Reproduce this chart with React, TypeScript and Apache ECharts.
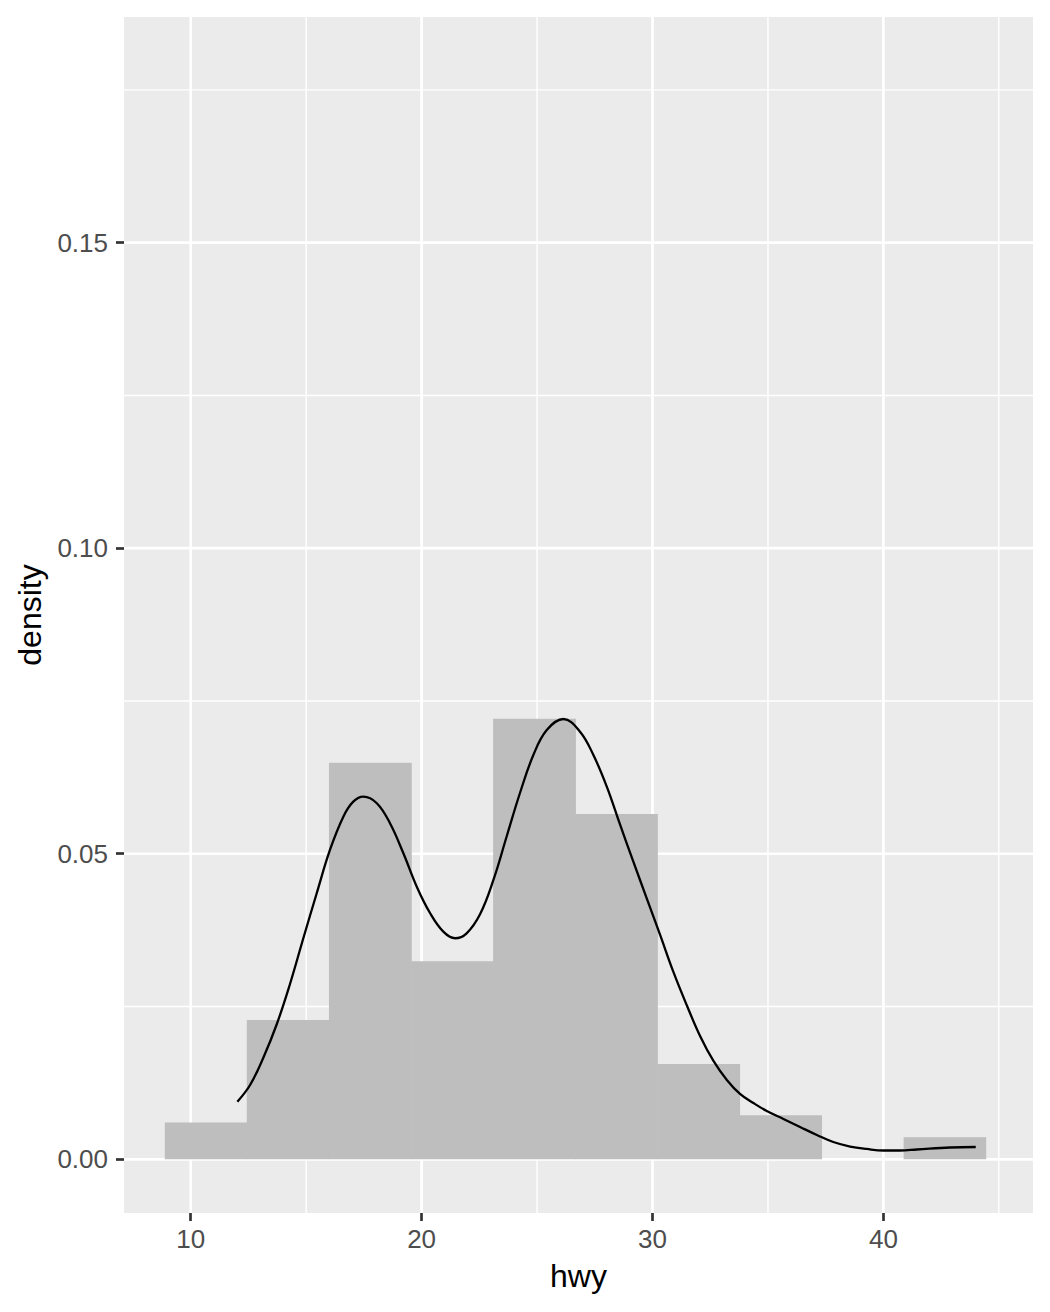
import React, { useEffect, useRef } from "react";
import * as echarts from "echarts";

// Histogram bin edges (hwy) and densities
const binEdges = [8.89, 12.44, 16.0, 19.56, 23.11, 26.67, 30.22, 33.78, 37.33, 40.89, 44.44];
const binDensity = [0.006, 0.0228, 0.0649, 0.0324, 0.0721, 0.0565, 0.0156, 0.0072, 0, 0.0036];

// Kernel density curve
const densityX = [
  12.02, 12.57, 13.14, 13.73, 14.3, 14.88, 15.46, 16.03, 16.61, 17.04, 17.48, 18.06, 18.63, 19.21,
  19.79, 20.37, 20.94, 21.45, 21.95, 22.53, 23.11, 23.69, 24.26, 24.84, 25.42, 26.14, 26.86, 27.44,
  28.02, 28.6, 29.17, 29.75, 30.33, 30.9, 31.48, 32.06, 32.64, 33.22, 33.79, 34.37, 34.95, 35.67,
  36.39, 37.12, 37.83, 38.56, 39.28, 40.0, 40.72, 41.45, 42.89, 44.0,
];
const densityY = [
  0.00943, 0.01216, 0.01658, 0.02214, 0.02869, 0.03622, 0.04358, 0.05062, 0.05607, 0.05852, 0.05934,
  0.05826, 0.05499, 0.05008, 0.04461, 0.04026, 0.03725, 0.03617, 0.03698, 0.04009, 0.04571, 0.05291,
  0.05994, 0.06616, 0.07025, 0.07205, 0.06998, 0.06616, 0.06098, 0.05471, 0.0487, 0.04271, 0.03671,
  0.0307, 0.02525, 0.02018, 0.01609, 0.01298, 0.01069, 0.00921, 0.0079, 0.0066, 0.00529, 0.00398,
  0.00283, 0.00209, 0.00169, 0.00144, 0.00144, 0.0016, 0.00193, 0.00201,
];

// Axis ticks
const xMajor = [10, 20, 30, 40];
const xMinor = [15, 25, 35, 45];
const yMajor = [0, 0.05, 0.1, 0.15];
const yMinor = [0.025, 0.075, 0.125, 0.175];

const X_MIN = 7.11;
const X_MAX = 46.48;
const Y_MIN = -0.00879;
const Y_MAX = 0.18693;

const FONT = "'Liberation Sans', Arial, Helvetica, sans-serif";

export default function App() {
  const ref = useRef<HTMLDivElement>(null);

  useEffect(() => {
    if (!ref.current) return;
    const chart = echarts.init(ref.current, undefined, { renderer: "svg" });

    // grid lines: [value, orientation (0 = vertical, 1 = horizontal), major (1) / minor (0)]
    const gridData: number[][] = [
      ...xMinor.map((v) => [v, 0, 0]),
      ...yMinor.map((v) => [v, 1, 0]),
      ...xMajor.map((v) => [v, 0, 1]),
      ...yMajor.map((v) => [v, 1, 1]),
    ];

    const bars = binDensity.map((d, i) => [binEdges[i], binEdges[i + 1], d]);
    const curve = densityX.map((x, i) => [x, densityY[i]]);

    const option: any = {
      animation: false,
      backgroundColor: "#FFFFFF",
      grid: {
        left: 124,
        right: 17,
        top: 17,
        bottom: 99,
        show: true,
        backgroundColor: "#EBEBEB",
        borderWidth: 0,
      },
      xAxis: {
        type: "value",
        position: "bottom",
        min: X_MIN,
        max: X_MAX,
        name: "hwy",
        nameLocation: "middle",
        nameGap: 47,
        nameTextStyle: { color: "#000000", fontSize: 32, fontFamily: FONT },
        axisLine: { show: true, onZero: false, lineStyle: { opacity: 0 } },
        splitLine: { show: false },
        axisTick: {
          show: true,
          length: 8,
          customValues: xMajor,
          lineStyle: { color: "#333333", width: 2.7 },
        },
        axisLabel: {
          customValues: xMajor,
          margin: 13,
          color: "#4D4D4D",
          fontSize: 26,
          fontFamily: FONT,
        },
      },
      yAxis: {
        type: "value",
        position: "left",
        min: Y_MIN,
        max: Y_MAX,
        name: "density",
        nameLocation: "middle",
        nameGap: 76,
        nameTextStyle: { color: "#000000", fontSize: 32, fontFamily: FONT },
        axisLine: { show: true, onZero: false, lineStyle: { opacity: 0 } },
        splitLine: { show: false },
        axisTick: {
          show: true,
          length: 8,
          customValues: yMajor,
          lineStyle: { color: "#333333", width: 2.7 },
        },
        axisLabel: {
          customValues: yMajor,
          margin: 16,
          color: "#4D4D4D",
          fontSize: 26,
          fontFamily: FONT,
          formatter: (v: number) => v.toFixed(2),
        },
      },
      series: [
        {
          type: "custom",
          z: 1,
          silent: true,
          data: gridData,
          encode: { x: 0, y: 0 },
          renderItem: (params: any, api: any) => {
            const cs = params.coordSys;
            const v = api.value(0);
            const orient = api.value(1);
            const major = api.value(2) === 1;
            const style = { stroke: "#FFFFFF", lineWidth: major ? 2.7 : 1.4 };
            if (orient === 0) {
              const px = api.coord([v, 0])[0];
              return {
                type: "line",
                shape: { x1: px, y1: cs.y, x2: px, y2: cs.y + cs.height },
                style,
              };
            }
            const py = api.coord([X_MIN, v])[1];
            return {
              type: "line",
              shape: { x1: cs.x, y1: py, x2: cs.x + cs.width, y2: py },
              style,
            };
          },
        },
        {
          type: "custom",
          z: 2,
          silent: true,
          data: bars,
          encode: { x: [0, 1], y: 2 },
          renderItem: (params: any, api: any) => {
            const p0 = api.coord([api.value(0), 0]);
            const p1 = api.coord([api.value(1), api.value(2)]);
            const h = p0[1] - p1[1];
            if (h <= 0) return { type: "group", children: [] };
            return {
              type: "rect",
              shape: {
                x: p0[0] - 0.3,
                y: p1[1],
                width: p1[0] - p0[0] + 0.6,
                height: h,
              },
              style: { fill: "#BEBEBE" },
            };
          },
        },
        {
          type: "line",
          z: 3,
          data: curve,
          smooth: 0.4,
          showSymbol: false,
          symbol: "none",
          lineStyle: { color: "#000000", width: 2.3 },
          silent: true,
        },
      ],
    };

    chart.setOption(option);
    return () => chart.dispose();
  }, []);

  return (
    <div
      ref={ref}
      style={{ position: "absolute", left: 0, top: 0, width: 1050, height: 1312 }}
    />
  );
}
